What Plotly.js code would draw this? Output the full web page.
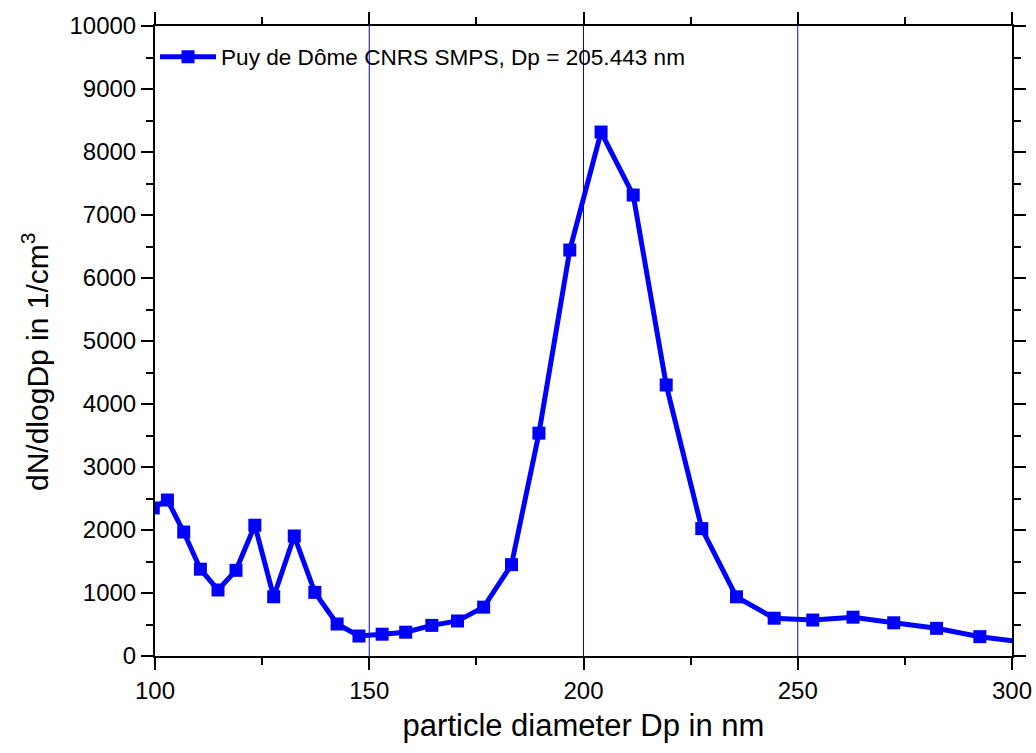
<!DOCTYPE html>
<html>
<head>
<meta charset="utf-8">
<script src="https://cdn.plot.ly/plotly-3.0.1.min.js"></script>
<style>html,body{margin:0;padding:0;background:#fff;}#chart{width:1036px;height:753px;}</style>
</head>
<body>
<div id="chart"></div>
<script>
// Particle diameter (nm)
const diameter = [99.6, 102.9, 106.7, 110.6, 114.7, 118.9, 123.3, 127.7, 132.5, 137.3,
  142.5, 147.6, 153.0, 158.5, 164.6, 170.6, 176.7, 183.2, 189.6, 196.8,
  204.1, 211.6, 219.3, 227.6, 235.7, 244.5, 253.5, 262.9, 272.4, 282.4,
  292.5, 303.4];
// dN/dlogDp (1/cm^3)
const dNdlogDp = [2350, 2476, 1968, 1378, 1048, 1360, 2076, 940, 1905, 1010,
  508, 317, 346, 378, 486, 556, 775, 1450, 3537, 6444,
  8317, 7317, 4302, 2022, 939, 600, 571, 616, 527, 439,
  307, 215];
const seriesName = "Puy de Dôme CNRS SMPS, Dp = 205.443 nm";
const refLines = [150, 200, 250];
const xTitle = "particle diameter Dp in nm";
const yTitle = "dN/dlogDp in 1/cm<sup>3</sup>";

const FONT = "Liberation Sans, Arial, Helvetica, sans-serif";

const trace = {
  x: diameter, y: dNdlogDp, type: "scatter", mode: "lines+markers",
  name: seriesName,
  line: {color: "#0000ff", width: 5},
  marker: {symbol: "square", size: 13, color: "#0000ff"}
};

const shapes = refLines.map(v => ({
  type: "line", xref: "x", yref: "paper", x0: v, x1: v, y0: 0, y1: 1,
  line: {color: "#0000ff", width: 1}, layer: "below"
}));

const axisCommon = {
  showline: true, linecolor: "#000", linewidth: 2, mirror: "allticks",
  ticks: "outside", ticklen: 12, tickwidth: 2, tickcolor: "#000",
  showgrid: false, zeroline: false, tickformat: "d",
  tickfont: {family: FONT, size: 24, color: "#000"}
};

const layout = {
  width: 1036, height: 753,
  margin: {l: 155, r: 24, t: 26, b: 97},
  paper_bgcolor: "#fff", plot_bgcolor: "#fff",
  font: {family: FONT, color: "#000"},
  showlegend: true,
  legend: {x: 0.0, y: 0.985, xanchor: "left", yanchor: "top",
    itemwidth: 56,
    bgcolor: "rgba(0,0,0,0)", borderwidth: 0,
    font: {family: FONT, size: 22.6, color: "#000"}},
  xaxis: Object.assign({}, axisCommon, {
    range: [100, 300], tick0: 100, dtick: 50,
    minor: {dtick: 25, ticks: "outside", ticklen: 7, tickwidth: 2, tickcolor: "#000"},
    title: {text: xTitle, font: {family: FONT, size: 31, color: "#000"}, standoff: 12}
  }),
  yaxis: Object.assign({}, axisCommon, {
    range: [0, 10000], tick0: 0, dtick: 1000,
    minor: {dtick: 500, ticks: "outside", ticklen: 7, tickwidth: 2, tickcolor: "#000"}
  }),
  shapes: shapes,
  annotations: [{
    text: yTitle, xref: "paper", yref: "paper", x: -0.140, y: 0.4667,
    xanchor: "center", yanchor: "middle", textangle: -90, showarrow: false,
    font: {family: FONT, size: 30, color: "#000"}
  }]
};

Plotly.newPlot("chart", [trace], layout, {displayModeBar: false, staticPlot: true});
</script>
</body>
</html>
